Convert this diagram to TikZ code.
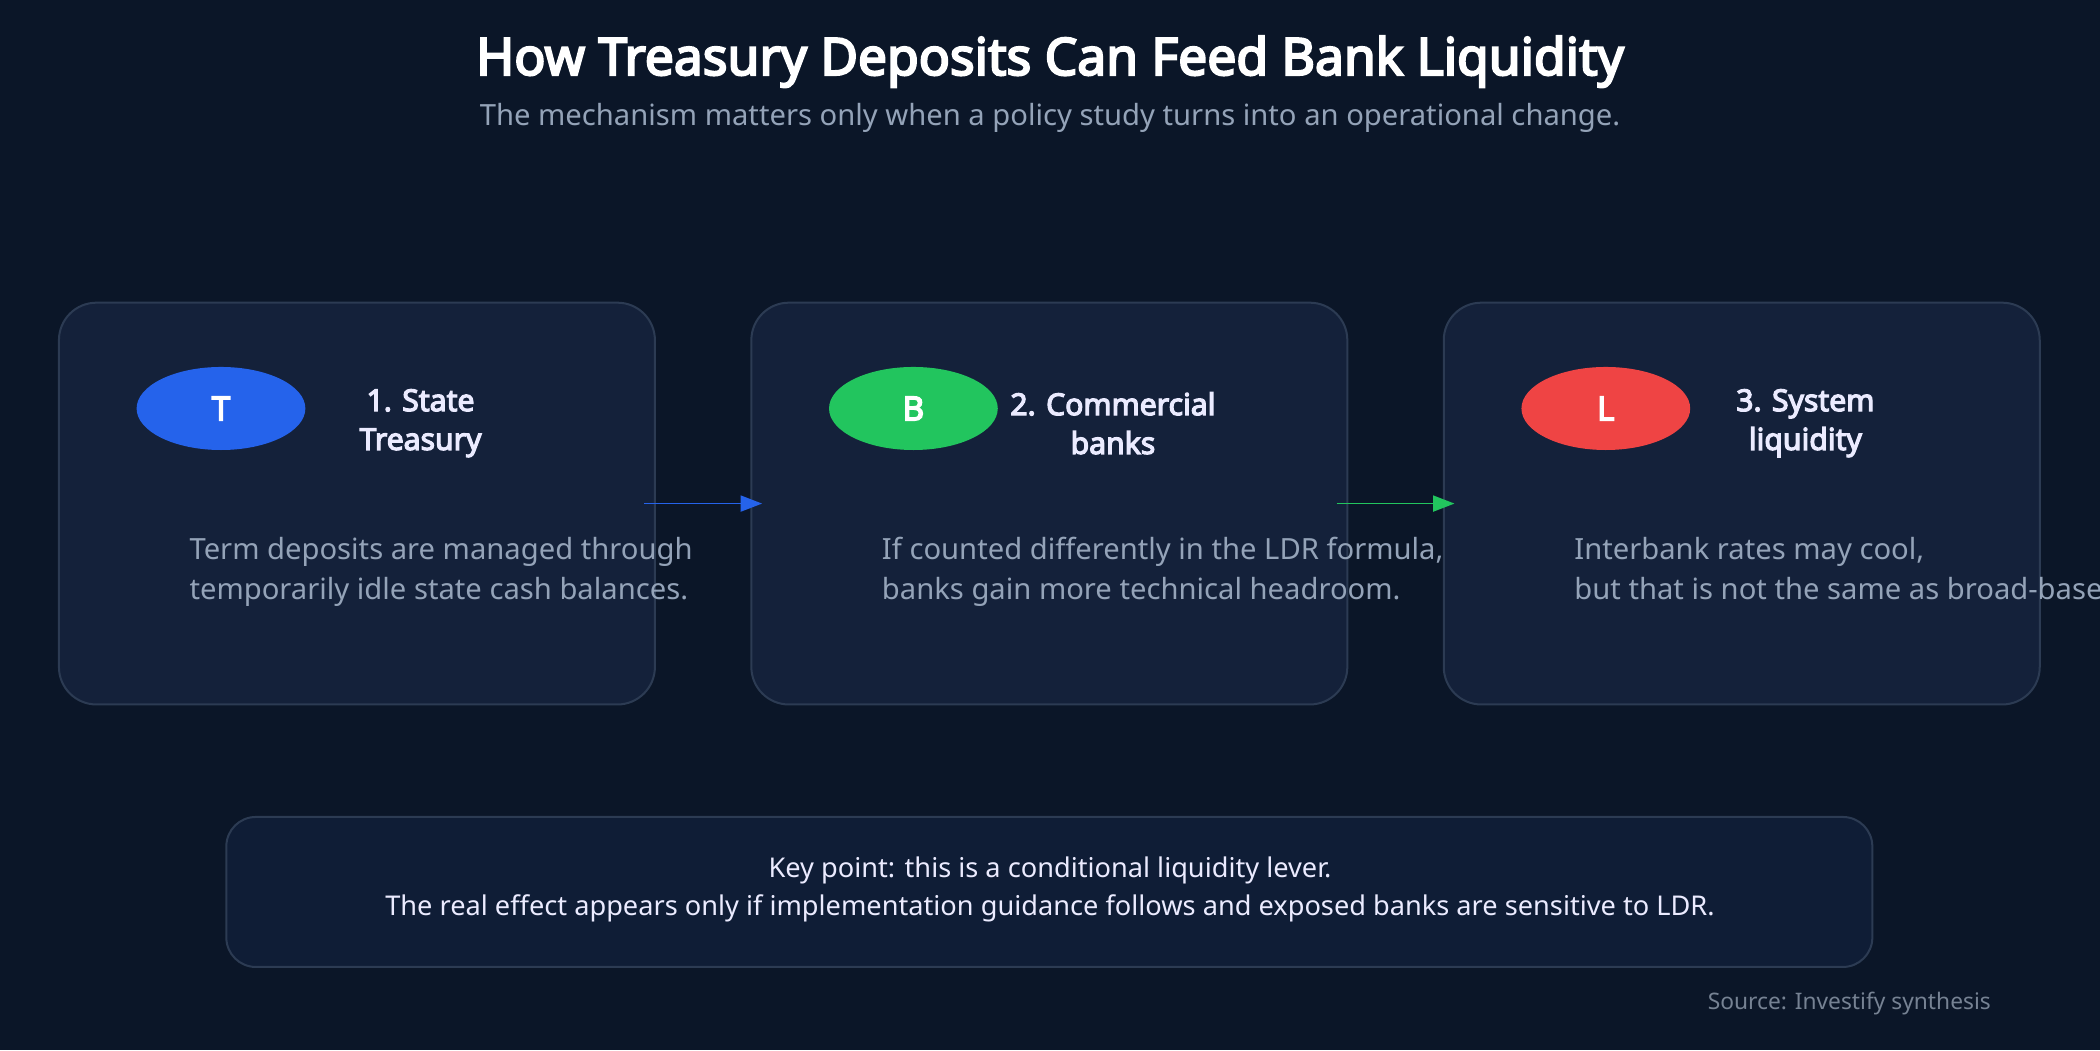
\documentclass[tikz,border=0pt]{standalone}
\usepackage{fontspec}
\setmainfont{Noto Sans}
\newfontfamily\nbold{Noto Sans}[FakeBold=4]
\usetikzlibrary{arrows.meta,shapes.geometric}
\definecolor{bg}{HTML}{0B1628}
\definecolor{card}{HTML}{14213A}
\definecolor{cardline}{HTML}{2C3B53}
\definecolor{muted}{HTML}{94A3B8}
\definecolor{tblue}{HTML}{2563EB}
\definecolor{tgreen}{HTML}{22C55E}
\definecolor{tred}{HTML}{EF4444}
\definecolor{keyfill}{HTML}{0F1D36}
\tikzset{
 card/.style={draw=cardline,line width=1.5pt,fill=card,rounded corners=28pt},
 badge/.style={ellipse,minimum width=126pt,minimum height=62pt,inner sep=0pt,text=white,font=\fontsize{25}{30}\selectfont\nbold},
 ctitle/.style={align=center,text=white!92!blue,font=\fontsize{22.5}{29}\selectfont\nbold},
 body/.style={anchor=west,align=left,text=muted,font=\fontsize{21.8}{30}\selectfont},
 flow/.style={-{Triangle[length=16pt,width=12pt]},line width=1.2pt},
}
\begin{document}
\begin{tikzpicture}[x=1pt,y=-1pt]
\clip (0,0) rectangle (1568,784);
\fill[bg] (0,0) rectangle (1568,784);
\node[text=white,font=\fontsize{38.5}{42}\selectfont\nbold] (title) at (784,46) {How Treasury Deposits Can Feed Bank Liquidity};
\node[text=muted,font=\fontsize{21.8}{26}\selectfont] (sub) at (784,88) {The mechanism matters only when a policy study turns into an operational change.};
\foreach \i/\x in {1/44,2/561,3/1078}{
  \draw[card] (\x,226) rectangle ++(445,300);
}
\node[badge,fill=tblue] (t) at (165,305) {T};
\node[badge,fill=tgreen] (b) at (682,305) {B};
\node[badge,fill=tred] (l) at (1199,305) {L};
\node[ctitle] (t1) at (314,316) {1. State\\Treasury};
\node[ctitle] (t2) at (831,316) {2. Commercial\\banks};
\node[ctitle] (t3) at (1348,316) {3. System\\liquidity};
\node[body] (d1) at (138,427) {Term deposits are managed through\\temporarily idle state cash balances.};
\node[body] (d2) at (655,427) {If counted differently in the LDR formula,\\banks gain more technical headroom.};
\node[body] (d3) at (1172,427) {Interbank rates may cool,\\but that is not the same as broad-based credit growth.};
\coordinate (a1) at (481,376); \coordinate (a2) at (569,376);
\coordinate (b1) at (998,376); \coordinate (b2) at (1086,376);
\draw[flow,tblue] (a1) -- (a2);
\draw[flow,tgreen] (b1) -- (b2);
\draw[draw=cardline,line width=1.5pt,fill=keyfill,rounded corners=22pt] (169,610) rectangle (1398,722);
\node[align=center,text=white!92!blue,font=\fontsize{20.3}{28}\selectfont] (key) at (784,664) {Key point: this is a conditional liquidity lever.\\The real effect appears only if implementation guidance follows and exposed banks are sensitive to LDR.};
\node[anchor=east,text=muted!80!black,font=\fontsize{17}{20}\selectfont] (src) at (1490,749) {Source: Investify synthesis};
\end{tikzpicture}
\end{document}
